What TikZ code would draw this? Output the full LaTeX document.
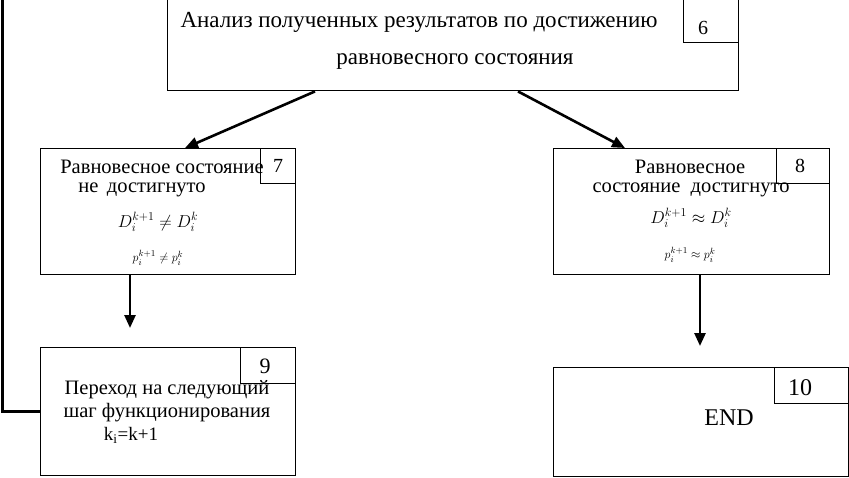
\documentclass[tikz,border=0pt]{standalone}
\usepackage{fontspec}
\setmainfont{Liberation Serif}
\usetikzlibrary{arrows.meta,calc}
\tikzset{
  box/.style={draw, line width=1.4pt, rectangle, inner sep=0pt, anchor=north west},
  numbox/.style={draw, line width=1.2pt, rectangle, inner sep=0pt, anchor=north east},
  numtxt/.style={inner sep=0pt, font=\fontsize{20}{20}\selectfont},
  txt/.style={inner sep=0pt, font=\fontsize{20.5}{20.5}\selectfont},
  bigtxt/.style={inner sep=0pt, font=\fontsize{23}{23}\selectfont},
  mtxt/.style={inner sep=0pt, font=\fontsize{18}{18}\selectfont},
  stxt/.style={inner sep=0pt, font=\fontsize{13}{13}\selectfont},
  arr/.style={line width=2.6pt, -{Triangle[length=13pt,width=11pt]}},
  fb/.style={line width=3pt}
}
\begin{document}
\begin{tikzpicture}[x=1pt,y=-1pt]
\useasboundingbox (0,0) rectangle (849,477);
% boxes
\node[box, minimum width=571pt, minimum height=94pt] (b6) at (167,-4) {};
\node[numbox, minimum width=55pt, minimum height=46pt] (n6) at (b6.north east) {};
\node[numtxt] (l6) at (703,28) {6};
\node[bigtxt] (t6a) at (419,22) {Анализ полученных результатов по достижению};
\node[bigtxt] (t6b) at (455,62) {равновесного состояния};

\node[box, minimum width=255pt, minimum height=126pt] (b7) at (40,148) {};
\node[numbox, minimum width=35pt, minimum height=35pt] (n7) at (b7.north east) {};
\node[numtxt] (l7) at (278,166) {7};
\node[txt] (t7a) at (162,167) {Равновесное состояние};
\node[txt] (t7b) at (142,190) {не\ \,достигнуто};
\node[mtxt] (t7c) at (158,222) {$D_i^{k+1} \neq D_i^{k}$};
\node[stxt] (t7d) at (158,258) {$p_i^{k+1} \neq p_i^{k}$};

\node[box, minimum width=276pt, minimum height=126pt] (b8) at (553,148) {};
\node[numbox, minimum width=53pt, minimum height=35pt] (n8) at (b8.north east) {};
\node[numtxt] (l8) at (800,166) {8};
\node[txt] (t8a) at (690,167) {Равновесное};
\node[txt] (t8b) at (691,190) {состояние\ \ достигнуто};
\node[mtxt] (t8c) at (691,218) {$D_i^{k+1} \approx D_i^{k}$};
\node[stxt] (t8d) at (690,255) {$p_i^{k+1} \approx p_i^{k}$};

\node[box, minimum width=255pt, minimum height=128pt] (b9) at (40,347) {};
\node[numbox, minimum width=55pt, minimum height=36pt] (n9) at (b9.north east) {};
\node[numtxt, font=\fontsize{22}{22}\selectfont] (l9) at (265,366) {9};
\node[txt] (t9a) at (167,390) {Переход на следующий};
\node[txt] (t9b) at (167,413) {шаг функционирования};
\node[txt, font=\fontsize{19}{19}\selectfont] (t9c) at (131,435) {k\textsubscript{i}=k+1};

\node[box, minimum width=295pt, minimum height=109pt] (b10) at (553,367) {};
\node[numbox, minimum width=74pt, minimum height=36pt] (n10) at (b10.north east) {};
\node[numtxt, font=\fontsize{24}{24}\selectfont] (l10) at (800,388) {10};
\node[numtxt, font=\fontsize{24}{24}\selectfont] (t10) at (729,418) {END};

% connectors
\draw[arr] ($(b6.south west)+(148,0)$) -- ($(b7.north west)+(145,0)$);
\draw[arr] ($(b6.south west)+(351,0)$) -- ($(b8.north west)+(72,0)$);
\draw[arr, shorten >=19pt] ($(b7.south west)+(90,0)$) -- ($(b9.north west)+(90,0)$);
\draw[arr, shorten >=21pt] ($(b8.south west)+(147,0)$) -- ($(b10.north west)+(147,0)$);
\coordinate (fbtop) at (2,-10);
\draw[fb] (b9.west) -| (fbtop);
\end{tikzpicture}
\end{document}
